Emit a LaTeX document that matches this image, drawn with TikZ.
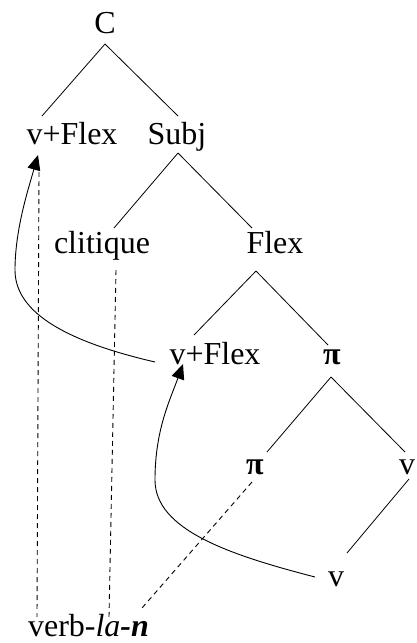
\documentclass[tikz,border=0pt]{standalone}
\usepackage{fontspec}
\setmainfont{Liberation Serif}
\usetikzlibrary{arrows.meta}
\begin{document}
\begin{tikzpicture}[x=1pt,y=-1pt,
  lab/.style={font=\fontsize{32}{38}\selectfont, inner sep=0pt, anchor=base},
  branch/.style={line width=0.8pt},
  trace/.style={line width=0.9pt, dash pattern=on 5pt off 4pt},
  move/.style={line width=0.9pt, -{Triangle[length=15pt,width=13pt]}}]
\useasboundingbox (0,0) rectangle (417,643);
\node[lab] (C) at (105,33) {C};
\node[lab] (vf1) at (72,144) {v+Flex};
\node[lab] (subj) at (177,144) {Subj};
\node[lab] (clit) at (102,253) {clitique};
\node[lab] (flex) at (275,253) {Flex};
\node[lab] (vf2) at (215,364) {v+Flex};
\node[lab] (pi1) at (332,364) {\textbf{π}};
\node[lab] (pi2) at (255,474) {\textbf{π}};
\node[lab] (vr) at (407,474) {v};
\node[lab] (vb) at (336,586) {v};
\node[lab] (verb) at (88.5,636) {verb-\textit{la}\textbf{\textit{-n}}};
% tree branches
\draw[branch] ([yshift=-11pt]C.base) -- ([shift={(-30pt,28pt)}]vf1.base);
\draw[branch] ([yshift=-11pt]C.base) -- ([shift={(1pt,28pt)}]subj.base);
\draw[branch] ([shift={(1pt,-9pt)}]subj.base) -- ([shift={(12pt,25pt)}]clit.base);
\draw[branch] ([shift={(1pt,-9pt)}]subj.base) -- ([shift={(-23pt,25pt)}]flex.base);
\draw[branch] ([shift={(-19pt,-18pt)}]flex.base) -- ([shift={(-21pt,29pt)}]vf2.base);
\draw[branch] ([shift={(-19pt,-18pt)}]flex.base) -- ([shift={(-4pt,19pt)}]pi1.base);
\draw[branch] ([shift={(-1pt,-13pt)}]pi1.base) -- ([shift={(12pt,22pt)}]pi2.base);
\draw[branch] ([shift={(-1pt,-13pt)}]pi1.base) -- ([shift={(-2pt,22pt)}]vr.base);
\draw[branch] ([shift={(2pt,-5pt)}]vr.base) -- ([shift={(11pt,33pt)}]vb.base);
% dashed traces
\draw[trace] ([shift={(-33pt,-28pt)}]vf1.base) -- ([shift={(-51.5pt,19pt)}]verb.base);
\draw[trace] ([shift={(14pt,-17pt)}]clit.base) -- ([shift={(20.5pt,19pt)}]verb.base);
\draw[trace] ([shift={(-3pt,-8pt)}]pi2.base) -- ([shift={(53.5pt,28pt)}]verb.base);
% movement arrows
\draw[move] ([shift={(-60pt,2pt)}]vf2.base) .. controls (60,340) and (15,310) .. (15,270)
  .. controls (15,230) and (28,190) .. ([shift={(-34pt,-11pt)}]vf1.base);
\draw[move] ([shift={(-21pt,9pt)}]vb.base) .. controls (230,555) and (155,530) .. (155,480)
  .. controls (155,430) and (170,400) .. ([shift={(-32pt,0pt)}]vf2.base);
\end{tikzpicture}
\end{document}
